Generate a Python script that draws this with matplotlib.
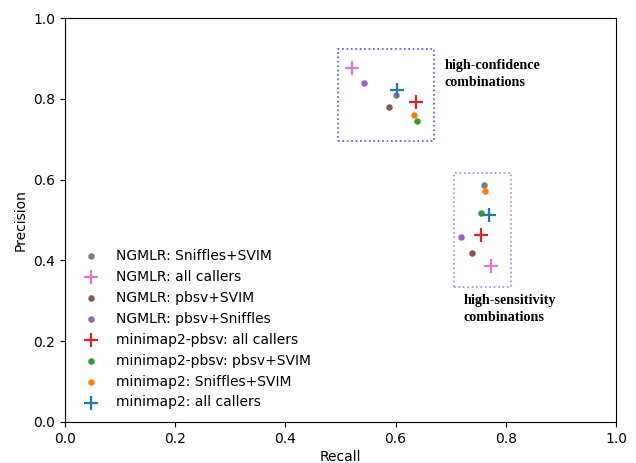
import matplotlib.pyplot as plt
from matplotlib.patches import Rectangle

labels = ['NGMLR: Sniffles+SVIM', 'NGMLR: all callers', 'NGMLR: pbsv+SVIM',
          'NGMLR: pbsv+Sniffles', 'minimap2-pbsv: all callers',
          'minimap2-pbsv: pbsv+SVIM', 'minimap2: Sniffles+SVIM', 'minimap2: all callers']
colors = ['tab:gray', 'tab:pink', 'tab:brown', 'tab:purple', 'tab:red',
          'tab:green', 'tab:orange', 'tab:blue']
markers = ['o', '+', 'o', 'o', '+', 'o', 'o', '+']

# high-confidence and high-sensitivity values for each combination
recall_conf = [0.601, 0.521, 0.588, 0.543, 0.637, 0.639, 0.633, 0.603]
prec_conf = [0.809, 0.876, 0.780, 0.839, 0.792, 0.745, 0.760, 0.822]
recall_sens = [0.760, 0.773, 0.739, 0.719, 0.755, 0.755, 0.762, 0.770]
prec_sens = [0.587, 0.386, 0.418, 0.458, 0.463, 0.517, 0.572, 0.512]

fig = plt.figure(figsize=(6.36, 4.63), dpi=100)
ax = fig.add_axes([0.102, 0.0886, 0.8666, 0.8724])

for i in range(len(labels)):
    if markers[i] == '+':
        kw = dict(marker='+', s=110, linewidths=1.6)
    else:
        kw = dict(marker='o', s=22, linewidths=0)
    ax.scatter([recall_conf[i], recall_sens[i]], [prec_conf[i], prec_sens[i]],
               color=colors[i], label=labels[i], **kw)

ax.add_patch(Rectangle((0.495, 0.696), 0.175, 0.227, fill=False,
                       edgecolor='#4a4aff', linestyle=':', linewidth=1.2))
ax.add_patch(Rectangle((0.706, 0.334), 0.103, 0.282, fill=False,
                       edgecolor='#b878f0', linestyle=':', linewidth=1.2))

serif = dict(family='Liberation Serif', fontweight='bold', fontsize=10.2)
ax.text(0.689, 0.899, 'high-confidence\ncombinations', va='top', ha='left',
        linespacing=1.4, **serif)
ax.text(0.724, 0.318, 'high-sensitivity\ncombinations', va='top', ha='left',
        linespacing=1.4, **serif)

ax.set_xlim(0, 1)
ax.set_ylim(0, 1)
ax.set_xlabel('Recall', labelpad=3)
ax.set_ylabel('Precision')
ax.legend(loc='lower left', frameon=False, bbox_to_anchor=(0.0, 0.0))

plt.savefig('out.png', dpi=100)
